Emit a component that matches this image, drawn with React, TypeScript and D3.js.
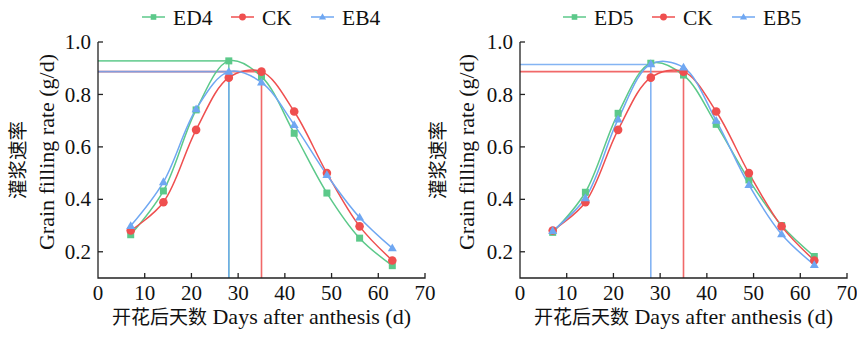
import React from "react";
import * as d3 from "d3";

const days = [7, 14, 21, 28, 35, 42, 49, 56, 63];
const xTicks = [0, 10, 20, 30, 40, 50, 60, 70];
const yTicks = [0.2, 0.4, 0.6, 0.8, 1.0];

const ed4 = [0.265, 0.432, 0.741, 0.928, 0.868, 0.652, 0.424, 0.252, 0.147];
const ck = [0.281, 0.389, 0.665, 0.864, 0.887, 0.735, 0.5, 0.297, 0.167];
const eb4 = [0.299, 0.466, 0.744, 0.887, 0.846, 0.684, 0.493, 0.331, 0.214];

const ed5 = [0.274, 0.427, 0.728, 0.919, 0.874, 0.686, 0.474, 0.3, 0.182];
const eb5 = [0.28, 0.405, 0.705, 0.916, 0.903, 0.7, 0.455, 0.267, 0.15];

const GREEN = "#5cc98a";
const RED = "#ef4f4f";
const BLUE = "#6fa7f2";

type Series = { name: string; values: number[]; color: string; marker: string };
type Ref = { x: number; y: number; color: string };

const leftSeries: Series[] = [
  { name: "ED4", values: ed4, color: GREEN, marker: "square" },
  { name: "CK", values: ck, color: RED, marker: "circle" },
  { name: "EB4", values: eb4, color: BLUE, marker: "triangle" },
];
const rightSeries: Series[] = [
  { name: "ED5", values: ed5, color: GREEN, marker: "square" },
  { name: "CK", values: ck, color: RED, marker: "circle" },
  { name: "EB5", values: eb5, color: BLUE, marker: "triangle" },
];
const leftRefs: Ref[] = [
  { x: 28, y: 0.928, color: GREEN },
  { x: 35, y: 0.887, color: RED },
  { x: 28, y: 0.887, color: BLUE },
];
const rightRefs: Ref[] = [
  { x: 35, y: 0.887, color: RED },
  { x: 28, y: 0.914, color: BLUE },
];

const SERIF = "'Liberation Serif', serif";
const CJK = "'Noto Sans CJK SC', sans-serif";

function Marker({ type, x, y, color, size = 1 }: { type: string; x: number; y: number; color: string; size?: number }) {
  if (type === "square") {
    const h = 3.5 * size;
    return <rect x={x - h} y={y - h} width={2 * h} height={2 * h} fill={color} />;
  }
  if (type === "circle") return <circle cx={x} cy={y} r={4.3 * size} fill={color} />;
  const s = 9 * size;
  const h = s * 0.866;
  return (
    <path
      d={`M${x},${y - h * 0.6}L${x + s / 2},${y + h * 0.4}L${x - s / 2},${y + h * 0.4}Z`}
      fill={color}
    />
  );
}

function Panel({
  x0,
  x1,
  series,
  refs,
  legendX,
  labelX,
}: {
  x0: number;
  x1: number;
  series: Series[];
  refs: Ref[];
  legendX: number[];
  labelX: number;
}) {
  const xs = d3.scaleLinear().domain([0, 70]).range([x0, x1]);
  const ys = d3.scaleLinear().domain([0.1, 1.0]).range([278, 42]);
  const line = d3
    .line<number>()
    .x((_, i) => xs(days[i]))
    .y((d) => ys(d))
    .curve(d3.curveCatmullRom.alpha(0.5));
  const bottom = ys(0.1);
  const serif = { fontFamily: SERIF };
  const cjk = { fontFamily: CJK };
  return (
    <g>
      {refs.map((r, i) => (
        <g key={"r" + i} stroke={r.color} strokeWidth={1.6} opacity={0.85}>
          <line x1={x0} x2={xs(r.x)} y1={ys(r.y)} y2={ys(r.y)} />
          <line x1={xs(r.x)} x2={xs(r.x)} y1={ys(r.y)} y2={bottom} />
        </g>
      ))}
      {series.map((s) => (
        <path key={s.name + "l"} d={line(s.values) || ""} fill="none" stroke={s.color} strokeWidth={1.5} />
      ))}
      {series.map((s) =>
        s.values.map((v, i) => (
          <Marker key={s.name + i} type={s.marker} x={xs(days[i])} y={ys(v)} color={s.color} />
        ))
      )}
      <g stroke="#222" strokeWidth={1.3} fill="none">
        <path d={`M${x0},${ys(1.0)}V${bottom}H${x1}V${bottom - 5}`} />
        {yTicks.map((t) => (
          <line key={"yt" + t} x1={x0} x2={x0 + 5} y1={ys(t)} y2={ys(t)} />
        ))}
        {xTicks.slice(1, -1).map((t) => (
          <line key={"xt" + t} x1={xs(t)} x2={xs(t)} y1={bottom} y2={bottom - 5} />
        ))}
      </g>
      <g fill="#111">
        {yTicks.map((t) => (
          <text key={"yl" + t} style={serif} fontSize={21} x={x0 - 7} y={ys(t)} dy="0.34em" textAnchor="end">
            {t.toFixed(1)}
          </text>
        ))}
        {xTicks.map((t) => (
          <text key={"xl" + t} style={serif} fontSize={21} x={xs(t)} y={300} textAnchor="middle">
            {String(t)}
          </text>
        ))}
        <text x={(x0 + x1) / 2} y={324} textAnchor="middle" style={serif} fontSize={22}>
          <tspan style={cjk} fontSize={19}>开花后天数</tspan>
          <tspan style={serif}> Days after anthesis (d)</tspan>
        </text>
        <text transform={`translate(${labelX},160) rotate(-90)`} textAnchor="middle" style={cjk} fontSize={19.5}>
          灌浆速率
        </text>
        <text transform={`translate(${labelX + 29},152) rotate(-90)`} textAnchor="middle" style={serif} fontSize={22}>
          Grain filling rate (g/d)
        </text>
      </g>
      {series.map((s, i) => (
        <g key={s.name + "lg"}>
          <line x1={legendX[i]} x2={legendX[i] + 23} y1={17} y2={17} stroke={s.color} strokeWidth={1.5} />
          <Marker type={s.marker} x={legendX[i] + 11.5} y={17} color={s.color} size={0.8} />
          <text x={legendX[i] + 31} y={25} style={serif} fontSize={21.5} fill="#111">
            {s.name}
          </text>
        </g>
      ))}
    </g>
  );
}

export default function App() {
  return (
    <svg
      width={857}
      height={340}
      style={{ position: "absolute", left: 0, top: 0, background: "#fff", fontFamily: SERIF }}
    >
      <Panel x0={98} x1={425} series={leftSeries} refs={leftRefs} legendX={[142, 231, 311]} labelX={25} />
      <Panel x0={520} x1={847} series={rightSeries} refs={rightRefs} legendX={[563, 652, 732]} labelX={445} />
    </svg>
  );
}
